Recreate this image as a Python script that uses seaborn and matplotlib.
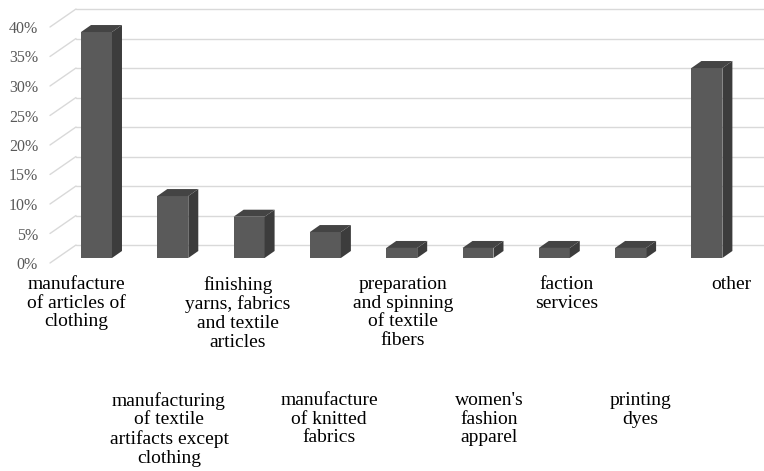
import matplotlib
matplotlib.use("Agg")
import matplotlib.pyplot as plt
import pandas as pd
import seaborn as sns
from matplotlib.patches import Polygon
from matplotlib.lines import Line2D
from matplotlib.transforms import IdentityTransform, ScaledTranslation

# ---- data -------------------------------------------------------------
categories = [
    "manufacture\nof articles of\nclothing",
    "manufacturing\nof textile\nartifacts except\nclothing",
    "finishing\nyarns, fabrics\nand textile\narticles",
    "manufacture\nof knitted\nfabrics",
    "preparation\nand spinning\nof textile\nfibers",
    "women's\nfashion\napparel",
    "faction\nservices",
    "printing\ndyes",
    "other",
]
shares = [38.3, 10.5, 7.0, 4.4, 1.7, 1.7, 1.7, 1.7, 32.2]
y_ticks = [0, 5, 10, 15, 20, 25, 30, 35, 40]
y_tick_labels = [f"{t}%" for t in y_ticks]

# ---- layout (pixels) --------------------------------------------------
W, H = 764, 471
DPI = 100
FRONT = "#5a5a5a"
SIDE = "#3c3c3c"
TOP = "#444444"
GRID = "#d9d9d9"
label_x = [76, 169, 238, 329, 403, 489, 567, 640, 731]
label_top = [276, 392]

sns.set_style("white")
plt.rcParams["font.family"] = ["Liberation Serif", "DejaVu Serif"]

fig = plt.figure(figsize=(W / DPI, H / DPI), dpi=DPI)
fig.patch.set_facecolor("white")

pitch = 76.3
first_center = 96.5
ax_left = first_center - 0.5 * pitch
ax_width = 9 * pitch
ax_bottom = H - 258
ax_height = 236
ax = fig.add_axes([ax_left / W, ax_bottom / H, ax_width / W, ax_height / H])
ax.set_facecolor("none")

df = pd.DataFrame({"category": categories, "share": shares})
sns.barplot(data=df, x="category", y="share", color=FRONT, saturation=1,
            width=0.406, linewidth=0, ax=ax, zorder=4)

ax.set_xlim(-0.5, 8.5)
ax.set_ylim(0, 40)
for s in ax.spines.values():
    s.set_visible(False)
ax.set_xticks([])
ax.set_yticks([])
ax.set_xlabel("")
ax.set_ylabel("")

ident = IdentityTransform()

def ypx(v):
    return ax.transData.transform((0, v))[1]

# back wall gridlines plus the receding lines of the side wall
BACK_DY = 13
FRONT_DY = -5
for v in y_ticks:
    yb = ypx(v)
    ax.add_line(Line2D([76, W + 5], [yb + BACK_DY] * 2, color=GRID,
                       lw=1.0, transform=ident, clip_on=False, zorder=1))
    ax.add_line(Line2D([50, 76], [yb + FRONT_DY, yb + BACK_DY], color=GRID,
                       lw=1.0, transform=ident, clip_on=False, zorder=1))

# extrude each bar: top and right faces
DX, DY = 10, 7
for patch in list(ax.patches):
    x0d, y0d = patch.get_x(), patch.get_y()
    x1d, y1d = x0d + patch.get_width(), y0d + patch.get_height()
    (x0, y0), (x1, y1) = ax.transData.transform([(x0d, y0d), (x1d, y1d)])
    side = Polygon([(x1, y0), (x1 + DX, y0 + DY), (x1 + DX, y1 + DY), (x1, y1)],
                   closed=True, facecolor=SIDE, edgecolor="none",
                   transform=ident, clip_on=False, zorder=4)
    top = Polygon([(x0, y1), (x0 + DX, y1 + DY), (x1 + DX, y1 + DY), (x1, y1)],
                  closed=True, facecolor=TOP, edgecolor="none",
                  transform=ident, clip_on=False, zorder=4)
    ax.add_patch(side)
    ax.add_patch(top)

# value axis labels along the front edge
tick_offset = ScaledTranslation(-(ax_left - 38) / DPI, -7 / DPI, fig.dpi_scale_trans)
for v, lab in zip(y_ticks, y_tick_labels):
    ax.text(0, v, lab, transform=ax.get_yaxis_transform() + tick_offset,
            ha="right", va="center", fontsize=11.5, color="#595959")

# category labels in two staggered rows
for i, (cat, xc) in enumerate(zip(categories, label_x)):
    ytop = label_top[i % 2]
    fig.text(xc / W, 1 - ytop / H, cat, ha="center", va="top",
             multialignment="center", fontsize=14, linespacing=1.12,
             color="black")

fig.savefig("out.png", dpi=DPI)
